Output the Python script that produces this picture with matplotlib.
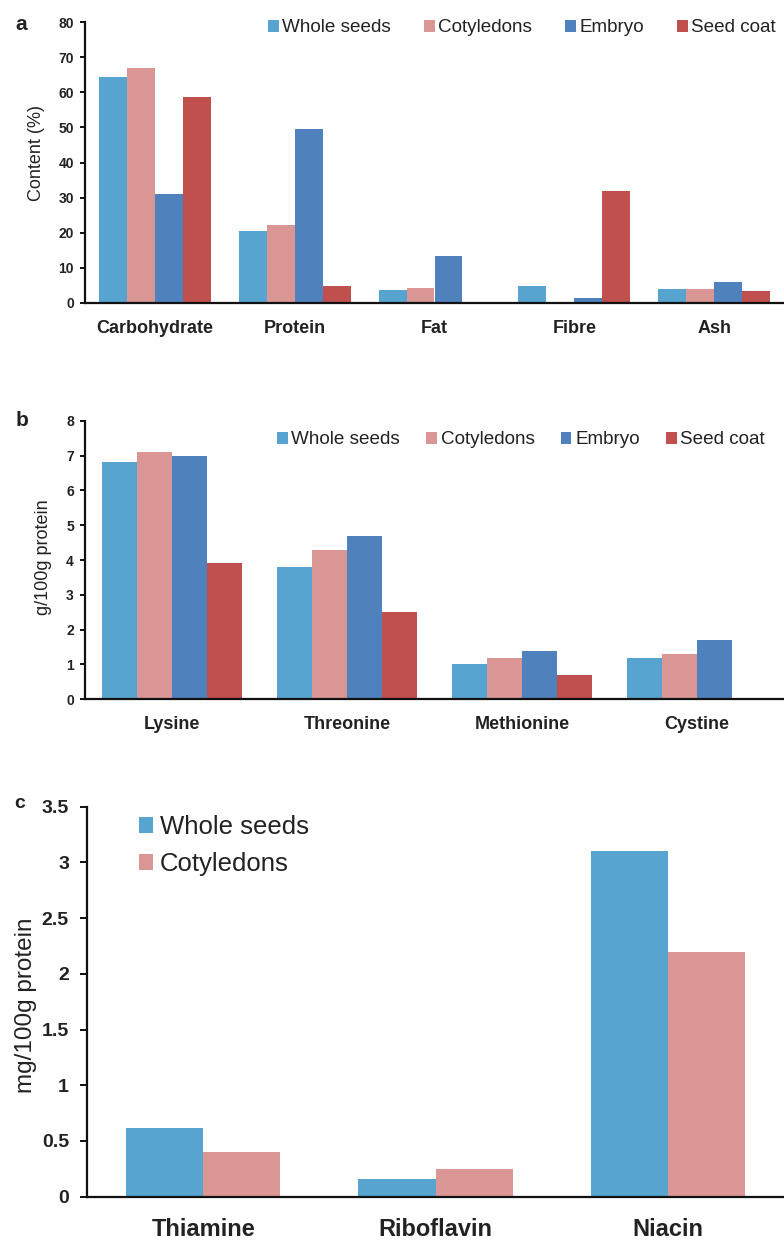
import numpy as np
import matplotlib
matplotlib.use("Agg")
import matplotlib.pyplot as plt

plt.rcParams['font.family'] = ['Liberation Sans', 'DejaVu Sans']

# ---------------- data ----------------
series_ab = ["Whole seeds", "Cotyledons", "Embryo", "Seed coat"]
colors_ab = ["#56A4CF", "#D99694", "#4F81BD", "#C0504D"]

cats_a = ["Carbohydrate", "Protein", "Fat", "Fibre", "Ash"]
whole_a = [64.2, 20.5, 3.7, 4.9, 4.1]
coty_a = [66.8, 22.1, 4.3, 0.0, 4.1]
embryo_a = [31.0, 49.6, 13.5, 1.3, 5.9]
coat_a = [58.7, 4.9, 0.0, 31.8, 3.3]

cats_b = ["Lysine", "Threonine", "Methionine", "Cystine"]
whole_b = [6.8, 3.8, 1.0, 1.2]
coty_b = [7.1, 4.3, 1.2, 1.3]
embryo_b = [7.0, 4.7, 1.4, 1.7]
coat_b = [3.9, 2.5, 0.7, 0.0]

series_c = ["Whole seeds", "Cotyledons"]
colors_c = ["#56A4CF", "#D99694"]
cats_c = ["Thiamine", "Riboflavin", "Niacin"]
whole_c = [0.62, 0.155, 3.10]
coty_c = [0.40, 0.25, 2.20]

yticks_a = [0, 10, 20, 30, 40, 50, 60, 70, 80]
yticks_b = [0, 1, 2, 3, 4, 5, 6, 7, 8]
yticks_c = [0, 0.5, 1, 1.5, 2, 2.5, 3, 3.5]
ytick_labels_c = ["0", "0.5", "1", "1.5", "2", "2.5", "3", "3.5"]

# ---------------- figure ----------------
W, H = 784, 1240
fig = plt.figure(figsize=(W / 100, H / 100), dpi=100)
TXT = "#222222"


def px_axes(left, top, right, bottom):
    return fig.add_axes([left / W, 1 - bottom / H, (right - left) / W, (bottom - top) / H])


def style(ax, ylim, yticks, ylabels, tick_fs, tick_len, tick_pad, cat_fs, cat_pad):
    ax.set_ylim(*ylim)
    ax.set_yticks(yticks)
    ax.set_yticklabels(ylabels, fontsize=tick_fs, fontweight="bold", color=TXT)
    for s in ["top", "right"]:
        ax.spines[s].set_visible(False)
    for s in ["left", "bottom"]:
        ax.spines[s].set_linewidth(1.6)
        ax.spines[s].set_color("#111111")
    ax.tick_params(axis="y", direction="out", length=tick_len, width=1.4, pad=tick_pad, color="#111111")
    ax.tick_params(axis="x", length=0, pad=cat_pad, labelsize=cat_fs, labelcolor=TXT)
    for t in ax.get_xticklabels():
        t.set_fontweight("bold")


def grouped(ax, cats, data, names, colors, width):
    n = len(data)
    x = np.arange(len(cats))
    for i, (vals, name, col) in enumerate(zip(data, names, colors)):
        off = (i - (n - 1) / 2) * width
        ax.bar(x + off, vals, width=width, color=col, label=name, linewidth=0)
    ax.set_xticks(x)
    ax.set_xticklabels(cats)
    ax.set_xlim(-0.5, len(cats) - 0.5)


# ---- panel a ----
ax_a = px_axes(85, 22, 784, 303)
grouped(ax_a, cats_a, [whole_a, coty_a, embryo_a, coat_a], series_ab, colors_ab, 0.2)
style(ax_a, (0, 80), yticks_a, [str(v) for v in yticks_a], 10, 3.5, 4.5, 13, 12.5)
ax_a.set_ylabel("Content (%)", fontsize=13, color=TXT, va="center", ha="center")
ax_a.yaxis.set_label_coords(-0.069, 0.534)
ax_a.legend(loc="center right", bbox_to_anchor=(776 / W, 1 - 28 / H), bbox_transform=fig.transFigure,
            ncol=4, frameon=False, fontsize=13.6, handlelength=0.55, handleheight=0.55,
            handletextpad=0.2, columnspacing=1.75, borderpad=0, borderaxespad=0,
            labelcolor=TXT)
fig.text(21, H - 24, "a", transform=None, fontsize=15, fontweight="bold", ha="center", va="center", color=TXT)

# ---- panel b ----
ax_b = px_axes(85, 420.7, 784, 699.3)
grouped(ax_b, cats_b, [whole_b, coty_b, embryo_b, coat_b], series_ab, colors_ab, 0.2)
style(ax_b, (0, 8), yticks_b, [str(v) for v in yticks_b], 10, 3.5, 4.5, 13, 12)
ax_b.set_ylabel("g/100g protein", fontsize=13, color=TXT, va="center", ha="center")
ax_b.yaxis.set_label_coords(-0.06, 0.509)
ax_b.legend(loc="center right", bbox_to_anchor=(765 / W, 1 - 440 / H), bbox_transform=fig.transFigure,
            ncol=4, frameon=False, fontsize=13.6, handlelength=0.55, handleheight=0.55,
            handletextpad=0.2, columnspacing=1.4, borderpad=0, borderaxespad=0,
            labelcolor=TXT)
fig.text(22, H - 420, "b", transform=None, fontsize=15, fontweight="bold", ha="center", va="center", color=TXT)

# ---- panel c ----
ax_c = px_axes(87, 806.7, 784, 1196.7)
grouped(ax_c, cats_c, [whole_c, coty_c], series_c, colors_c, 0.332)
style(ax_c, (0, 3.5), yticks_c, ytick_labels_c, 14, 5, 8, 17, 15)
ax_c.set_ylabel("mg/100g protein", fontsize=17.5, color=TXT, va="center", ha="center")
ax_c.yaxis.set_label_coords(-0.087, 0.49)
ax_c.legend(loc="center left", bbox_to_anchor=(139 / W, 1 - 845.5 / H), bbox_transform=fig.transFigure,
            ncol=1, frameon=False, fontsize=18.5, handlelength=0.55, handleheight=0.55,
            handletextpad=0.25, labelspacing=0.5, borderpad=0, borderaxespad=0,
            labelcolor=TXT)
fig.text(20, H - 803, "c", transform=None, fontsize=14, fontweight="bold", ha="center", va="center", color=TXT)

fig.savefig("out.png", dpi=100)
